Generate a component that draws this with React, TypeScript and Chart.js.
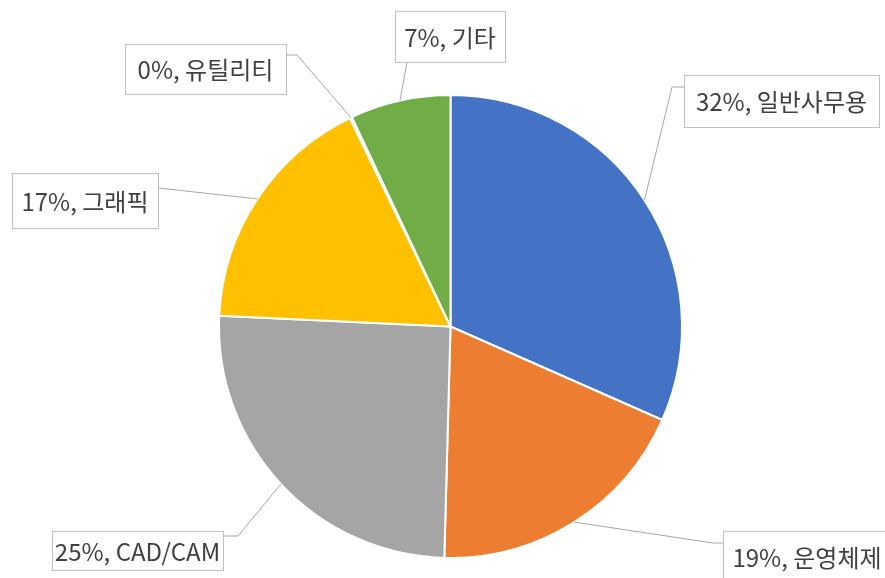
import React, { useEffect, useRef } from "react";
import { Chart, registerables } from "chart.js";

Chart.register(...registerables);

const categories = ["일반사무용", "운영체제", "CAD/CAM", "그래픽", "유틸리티", "기타"];
const values = [31.6, 18.8, 25.3, 17.1, 0.15, 7.0];
const colors = ["#4472C4", "#ED7D31", "#A5A5A5", "#FFC000", "#5B9BD5", "#70AD47"];

// label box layout (x, y, w, h), attach point on the box and optional elbow
const labelBoxes = [
  { x: 684, y: 75, w: 195, h: 52, ax: 684, ay: 87, ex: 672, ey: 87 },
  { x: 723, y: 531, w: 168, h: 52, ax: 723, ay: 543, ex: 713, ey: 543 },
  { x: 52, y: 531, w: 171, h: 39, ax: 223, ay: 536, ex: 238, ey: 536 },
  { x: 12, y: 173, w: 146, h: 55, ax: 158, ay: 188, ex: null, ey: null },
  { x: 125, y: 44, w: 161, h: 50, ax: 286, ay: 55, ex: 297, ey: 55 },
  { x: 395, y: 11, w: 110, h: 51, ax: 407, ay: 62, ex: null, ey: null },
];

const FONT = '"Noto Sans CJK KR", "Noto Sans", sans-serif';

const labelPlugin = {
  id: "calloutLabels",
  afterDatasetsDraw(chart: any) {
    const ctx = chart.ctx;
    const meta = chart.getDatasetMeta(0);
    const total = values.reduce((a, b) => a + b, 0);
    ctx.save();
    meta.data.forEach((arc: any, i: number) => {
      const b = labelBoxes[i];
      const p = arc.getProps(["x", "y", "startAngle", "endAngle", "outerRadius"], true);
      const mid = (p.startAngle + p.endAngle) / 2;
      const sx = p.x + Math.cos(mid) * p.outerRadius;
      const sy = p.y + Math.sin(mid) * p.outerRadius;
      // leader line
      ctx.strokeStyle = "#A6A6A6";
      ctx.lineWidth = 1;
      ctx.beginPath();
      ctx.moveTo(sx, sy);
      if (b.ex !== null) ctx.lineTo(b.ex, b.ey);
      ctx.lineTo(b.ax, b.ay);
      ctx.stroke();
      // box
      ctx.fillStyle = "#FFFFFF";
      ctx.fillRect(b.x, b.y, b.w, b.h);
      ctx.strokeStyle = "#BFBFBF";
      ctx.strokeRect(b.x + 0.5, b.y + 0.5, b.w, b.h);
      // text
      const pct = Math.round((values[i] / total) * 100);
      ctx.fillStyle = "#404040";
      ctx.font = `24px ${FONT}`;
      ctx.textAlign = "center";
      ctx.textBaseline = "middle";
      ctx.fillText(`${pct}%, ${categories[i]}`, b.x + b.w / 2, b.y + b.h / 2 + 1);
    });
    ctx.restore();
  },
};

export default function App() {
  const ref = useRef<HTMLCanvasElement | null>(null);
  useEffect(() => {
    if (!ref.current) return;
    const chart = new Chart(ref.current, {
      type: "pie",
      data: {
        labels: categories,
        datasets: [
          {
            data: values,
            backgroundColor: colors,
            borderColor: "#FFFFFF",
            borderWidth: 2,
          },
        ],
      },
      options: {
        responsive: false,
        animation: false,
        devicePixelRatio: 1,
        layout: { padding: { top: 94, bottom: 19, left: 218, right: 202 } },
        plugins: {
          legend: { display: false },
          tooltip: { enabled: false },
        },
      },
      plugins: [labelPlugin],
    });
    return () => chart.destroy();
  }, []);
  return (
    <div style={{ position: "fixed", left: 0, top: 0, width: 885, height: 578, background: "#fff" }}>
      <canvas ref={ref} width={885} height={578} style={{ width: 885, height: 578, display: "block" }} />
    </div>
  );
}
